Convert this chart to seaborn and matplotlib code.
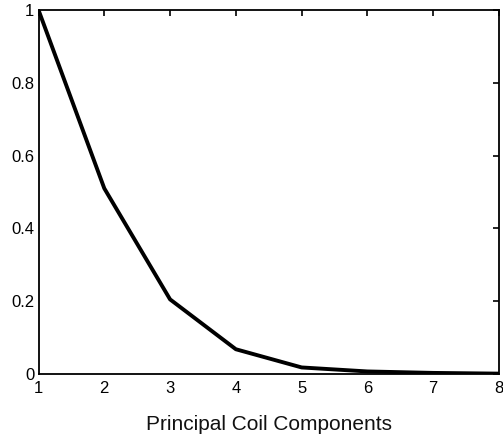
import matplotlib
matplotlib.use("Agg")
import matplotlib.pyplot as plt
import seaborn as sns
import pandas as pd

components = [1, 2, 3, 4, 5, 6, 7, 8]
values = [1.0, 0.51, 0.205, 0.068, 0.018, 0.007, 0.003, 0.001]
x_ticks = [1, 2, 3, 4, 5, 6, 7, 8]
y_ticks = [0, 0.2, 0.4, 0.6, 0.8, 1.0]
y_tick_labels = ["0", "0.2", "0.4", "0.6", "0.8", "1"]
x_label = "Principal Coil Components"

sns.set_style("white")
plt.rcParams['font.family'] = ['Liberation Sans', 'DejaVu Sans']

df = pd.DataFrame({"comp": components, "val": values})

fig = plt.figure(figsize=(5.03, 4.36), dpi=100)
ax = fig.add_axes([38.5/503, (436-374)/436, (499-38.5)/503, (374-10)/436])
sns.lineplot(data=df, x="comp", y="val", ax=ax, color="black", linewidth=2.8)
ax.set_xlim(1, 8)
ax.set_ylim(0, 1)
ax.set_xticks(x_ticks)
ax.set_xticklabels([str(t) for t in x_ticks])
ax.set_yticks(y_ticks)
ax.set_yticklabels(y_tick_labels)
ax.tick_params(direction="in", length=4, width=1.2, labelsize=12, colors="black",
               top=True, right=True)
ax.tick_params(axis="x", pad=5)
ax.tick_params(axis="y", pad=3)
for s in ax.spines.values():
    s.set_color("black")
    s.set_linewidth(1.3)
ax.set_xlabel(x_label, fontsize=15, labelpad=14, color="#111111")
ax.set_ylabel("")
fig.savefig("out.png", dpi=100)
